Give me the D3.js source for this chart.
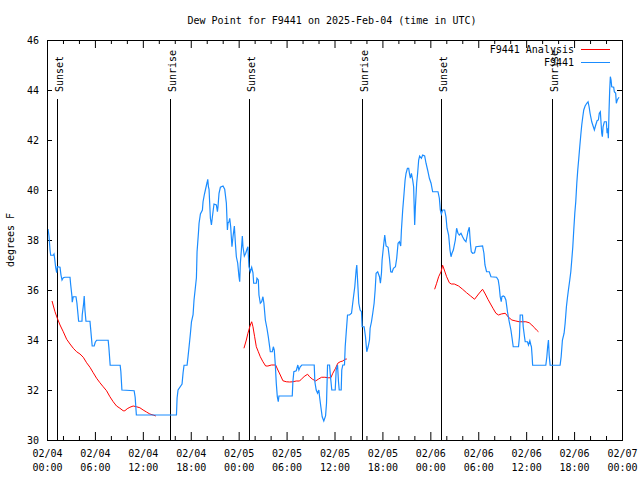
<!DOCTYPE html>
<html><head><meta charset="utf-8">
<script src="https://cdn.jsdelivr.net/npm/d3@7"></script>
<style>
html,body{margin:0;padding:0;background:#fff;}
svg{display:block;}
text{font-family:"DejaVu Sans Mono","Liberation Mono",monospace;font-size:10px;fill:#000;}
</style></head>
<body><svg id="c" width="640" height="480"></svg>
<script>
// ---- data (hours after 2025-02-04 00:00 UTC, degrees F) ----
const title = "Dew Point for F9441 on 2025-Feb-04 (time in UTC)";
const yLabel = "degrees F";
const obsName = "F9441";
const anaName = "F9441 Analysis";

const obsHours = [0.13,0.25,0.38,0.46,0.79,0.88,0.96,1.09,1.21,1.29,1.63,1.75,1.88,2.04,2.25,2.88,2.96,3.13,3.16,3.29,3.63,3.75,3.88,3.96,4.38,4.41,4.59,4.66,4.75,4.88,5.38,5.46,5.59,5.66,5.91,6.04,6.21,7.66,7.75,7.91,9.16,9.25,9.38,10.91,11.04,11.19,16.21,16.29,16.41,16.91,17.04,17.16,17.54,17.66,17.79,17.96,18.09,18.29,18.41,18.59,18.71,18.79,18.96,19.04,19.21,19.46,19.54,19.71,19.88,20.04,20.13,20.21,20.29,20.46,20.59,20.71,20.79,20.91,21.21,21.34,21.41,21.54,21.71,22.04,22.25,22.46,22.59,22.66,22.79,22.88,23.0,23.16,23.29,23.46,23.59,23.71,23.88,24.04,24.13,24.21,24.34,24.46,24.54,24.71,24.88,25.04,25.16,25.29,25.46,25.63,25.79,25.88,26.21,26.29,26.46,26.54,26.71,26.88,27.04,27.16,27.34,27.54,27.71,27.88,27.96,28.21,28.34,28.46,28.59,28.71,28.84,28.96,29.04,30.71,30.79,30.91,31.21,31.41,31.54,31.71,31.91,33.46,33.54,33.71,33.88,34.04,34.13,34.29,34.46,34.66,34.88,35.0,35.13,35.38,35.5,35.66,36.09,36.21,36.38,36.5,36.59,36.84,36.91,37.04,37.25,37.34,37.46,37.63,37.88,38.13,38.38,38.54,38.71,38.79,38.91,39.04,39.21,39.38,39.46,39.71,39.88,40.04,40.21,40.38,40.46,40.63,40.79,40.96,41.09,41.21,41.41,41.63,41.75,41.88,41.96,42.13,42.29,42.46,42.71,42.88,43.04,43.21,43.38,43.63,43.79,43.96,44.13,44.29,44.38,44.54,44.71,44.84,44.96,45.13,45.29,45.38,45.5,45.63,45.79,45.91,46.04,46.13,46.29,46.41,46.54,46.66,46.88,47.04,47.29,47.46,47.66,47.88,48.09,48.29,48.96,49.13,49.25,49.38,49.54,49.79,49.96,50.09,50.29,50.46,50.59,50.71,50.88,51.13,51.29,51.46,51.63,51.84,52.04,52.25,52.46,52.59,52.71,52.88,53.0,53.13,53.29,53.54,53.71,54.54,54.71,54.84,55.04,55.38,55.59,56.29,56.5,56.63,56.75,56.88,56.96,57.13,57.29,57.46,57.66,57.88,58.09,58.21,58.38,59.04,59.16,59.25,59.54,59.63,59.79,59.88,60.16,60.29,60.46,60.59,60.66,60.75,60.81,62.46,62.59,62.69,62.79,62.88,63.0,64.25,64.38,64.54,64.75,64.88,65.04,65.16,65.29,65.46,65.59,65.71,65.84,65.96,66.09,66.21,66.34,66.46,66.59,66.71,66.84,66.96,67.09,67.21,67.38,67.59,67.75,67.88,68.0,68.21,68.38,68.54,68.71,68.88,69.04,69.16,69.29,69.38,69.46,69.54,69.63,69.79,70.04,70.13,70.21,70.29,70.38,70.46,70.54,70.63,70.71,70.96,71.04,71.21,71.29,71.41,71.54,71.63];
const obsValues = [38.44,38.16,37.60,37.39,37.39,37.44,37.25,36.89,36.69,36.93,36.91,36.60,36.40,36.49,36.51,36.51,36.23,35.73,35.51,35.73,35.73,35.47,35.03,34.75,34.75,35.0,35.47,35.76,35.2,34.75,34.75,34.47,34.0,33.76,33.76,33.91,33.99,33.99,33.69,32.99,32.99,32.73,32.0,31.97,31.71,31.0,31.0,31.68,32.0,32.24,32.69,32.99,32.99,33.33,33.73,34.27,34.73,35.01,35.6,36.13,36.49,37.53,38.27,38.67,39.04,39.2,39.53,39.83,40.07,40.29,40.43,40.13,40.03,38.87,38.6,38.93,39.13,39.44,39.4,39.13,39.33,39.87,40.11,40.16,40.03,39.47,38.4,38.67,38.73,38.87,38.53,37.73,38.13,38.56,37.87,37.33,37.07,36.53,36.33,37.07,37.6,38.16,37.73,37.36,37.47,37.63,37.73,36.93,36.73,36.91,36.69,36.27,36.27,36.47,36.4,35.8,35.47,35.53,35.73,35.47,34.8,34.47,34.13,33.73,33.53,33.53,33.73,33.6,33.0,32.27,31.73,31.53,31.76,31.76,32.33,32.73,32.77,33.0,32.8,32.93,33.0,33.0,32.33,32.0,31.87,32.0,31.73,31.33,30.93,30.76,30.96,31.47,33.0,33.0,32.53,32.0,32.0,32.8,33.0,32.33,32.0,32.0,32.8,33.0,33.0,33.73,34.27,35.0,35.0,35.07,35.73,36.13,36.8,37.0,36.27,35.47,35.2,35.13,34.53,34.53,34.13,33.53,33.73,34.0,34.47,34.73,35.07,35.47,36.0,36.67,36.73,36.53,36.27,36.67,37.2,37.73,38.2,37.76,37.71,37.27,36.73,36.71,36.87,36.93,37.27,37.87,37.93,37.76,38.4,39.2,39.87,40.4,40.67,40.87,40.87,40.67,40.47,40.67,40.4,40.13,38.6,39.33,40.27,40.67,41.2,41.36,41.27,41.4,41.36,41.07,40.8,40.47,40.27,39.93,39.93,39.67,39.2,39.04,39.2,39.2,38.93,38.47,38.2,37.6,37.33,37.47,37.6,38.0,38.47,38.27,38.2,38.27,38.13,38.0,37.93,38.13,38.33,38.51,37.93,37.53,37.47,37.49,37.73,37.76,37.47,37.0,36.73,36.73,36.53,36.51,36.4,36.13,35.73,35.53,35.73,35.76,35.73,35.6,35.13,34.73,34.4,34.13,33.73,33.73,34.13,35.0,35.0,34.53,34.13,33.93,33.93,33.8,33.97,33.8,33.73,33.33,32.99,32.99,33.33,33.73,34.0,33.4,32.99,32.99,33.33,34.0,34.27,34.67,35.33,35.67,36.0,36.4,36.73,37.2,37.73,38.4,39.07,39.53,40.27,40.8,41.27,41.73,42.2,42.6,42.93,43.2,43.36,43.47,43.53,43.33,43.07,42.73,42.56,42.4,42.6,42.77,42.8,43.07,43.13,42.67,42.27,42.13,42.53,42.73,42.73,42.27,42.47,42.07,43.2,44.0,44.53,44.4,44.13,44.11,43.93,43.87,43.47,43.6,43.67,43.71];

// analysis series; null marks a gap between runs
const anaHours = [0.63,1.0,1.29,1.63,2.04,2.46,2.88,3.29,3.71,4.13,4.54,4.96,5.38,5.79,6.21,6.63,7.04,7.46,7.88,8.29,8.71,9.13,9.54,9.75,10.04,10.38,10.79,11.21,11.63,12.04,12.46,12.88,13.29,13.63,
  20,
  24.66,24.96,25.16,25.46,25.63,25.79,26.0,26.21,26.46,26.71,27.04,27.38,27.66,28.09,28.63,28.91,29.21,29.54,29.96,30.38,30.79,31.21,31.63,31.96,32.29,32.63,32.88,33.21,33.63,33.96,34.38,34.79,35.21,35.54,35.79,36.13,36.41,36.71,37.04,37.29,37.54,
  44,
  48.54,48.79,49.04,49.34,49.54,49.75,50.04,50.38,50.63,51.0,51.54,52.04,52.54,53.04,53.54,54.04,54.54,54.88,55.21,55.54,55.88,56.21,56.54,56.88,57.38,57.79,58.21,58.71,59.13,59.96,60.38,60.71,61.04,61.29,61.54];
const anaValues = [35.56,35.13,34.87,34.6,34.33,34.03,33.84,33.67,33.53,33.44,33.31,33.09,32.91,32.69,32.47,32.29,32.13,31.97,31.73,31.53,31.36,31.27,31.17,31.17,31.25,31.31,31.36,31.33,31.29,31.2,31.12,31.04,31.0,30.96,
  null,
  33.67,34.0,34.27,34.6,34.73,34.53,34.13,33.73,33.53,33.33,33.13,32.96,32.96,33.0,33.0,32.8,32.6,32.37,32.33,32.32,32.33,32.36,32.36,32.47,32.56,32.63,32.53,32.44,32.36,32.43,32.51,32.51,32.49,32.49,32.67,32.87,33.07,33.13,33.16,33.23,33.24,
  null,
  36.03,36.27,36.53,36.73,36.99,36.8,36.53,36.29,36.24,36.24,36.16,36.03,35.89,35.76,35.63,35.84,36.03,35.84,35.63,35.44,35.25,35.07,35.0,35.04,35.07,34.91,34.8,34.76,34.73,34.73,34.69,34.6,34.49,34.4,34.33];

const sunLabels = ["Sunset","Sunrise","Sunset","Sunrise","Sunset","Sunrise"];
const sunHours = [1.29,15.41,25.29,39.41,49.29,63.29];

const xTickHours = [0,6,12,18,24,30,36,42,48,54,60,66,72];
const xTickDates = ["02/04","02/04","02/04","02/04","02/05","02/05","02/05","02/05","02/06","02/06","02/06","02/06","02/07"];
const xTickTimes = ["00:00","06:00","12:00","18:00","00:00","06:00","12:00","18:00","00:00","06:00","12:00","18:00","00:00"];
const xMinorHours = [2,4,8,10,14,16,20,22,26,28,32,34,38,40,44,46,50,52,56,58,62,64,68,70];
const yTicks = [30,32,34,36,38,40,42,44,46];

// ---- drawing ----
const t0 = Date.UTC(2025,1,4);
const toDate = h => new Date(t0 + h*3600e3);
const L=47, R=622, T=40, B=440;
const svg = d3.select("#c");
const x = d3.scaleUtc().domain([toDate(0), toDate(72)]).range([L,R]);
const y = d3.scaleLinear().domain([30,46]).range([B,T]);

svg.append("text").attr("x", 332).attr("y", 24).attr("text-anchor","middle").text(title);

function strip(g){ g.select(".domain").remove(); g.selectAll("line").attr("stroke","#000"); }

// bottom axis (major + minor)
const gb = svg.append("g").attr("transform",`translate(0,${B})`)
  .call(d3.axisBottom(x).tickValues(xTickHours.map(toDate)).tickSize(-8).tickFormat(""));
strip(gb);
gb.selectAll(".tick text").remove();
gb.selectAll(".tick").each(function(d,i){
  const t = d3.select(this).append("text").attr("text-anchor","middle").attr("fill","#000")
    .style("font-family",'"DejaVu Sans Mono",monospace').style("font-size","10px");
  t.append("tspan").attr("x",0).attr("y",17).text(xTickDates[i]);
  t.append("tspan").attr("x",0).attr("y",31).text(xTickTimes[i]);
});
strip(svg.append("g").attr("transform",`translate(0,${B})`)
  .call(d3.axisBottom(x).tickValues(xMinorHours.map(toDate)).tickSize(-4).tickFormat("")));
// top mirror
strip(svg.append("g").attr("transform",`translate(0,${T})`)
  .call(d3.axisTop(x).tickValues(xTickHours.map(toDate)).tickSize(-8).tickFormat("")));
strip(svg.append("g").attr("transform",`translate(0,${T})`)
  .call(d3.axisTop(x).tickValues(xMinorHours.map(toDate)).tickSize(-4).tickFormat("")));
// left axis
const gl = svg.append("g").attr("transform",`translate(${L},0)`)
  .call(d3.axisLeft(y).tickValues(yTicks).tickSize(-5).tickPadding(8).tickFormat(d3.format("d")));
strip(gl);
gl.selectAll("text").attr("fill","#000").style("font-family",'"DejaVu Sans Mono",monospace').style("font-size","10px");
// right mirror
strip(svg.append("g").attr("transform",`translate(${R},0)`)
  .call(d3.axisRight(y).tickValues(yTicks).tickSize(-5).tickFormat("")));

svg.append("text").attr("transform",`translate(14,240) rotate(-90)`).attr("text-anchor","middle").text(yLabel);

// sunrise / sunset markers
const sg = svg.append("g");
sunHours.forEach((h,i)=>{
  const xp = Math.round(x(toDate(h)))+0.5;
  sg.append("line").attr("x1",xp).attr("x2",xp).attr("y1",99).attr("y2",B).attr("stroke","#000").attr("stroke-width",1);
  sg.append("text").attr("transform",`translate(${xp+5},92) rotate(-90)`).attr("text-anchor","start").text(sunLabels[i]);
});

// series
const obs = obsHours.map((h,i)=>({d:toDate(h), v:obsValues[i]}));
const ana = anaHours.map((h,i)=>({d:toDate(h), v:anaValues[i]}));
const line = d3.line().defined(p=>p.v!==null).x(p=>x(p.d)).y(p=>y(p.v));
svg.append("path").datum(ana).attr("d",line).attr("fill","none").attr("stroke","#ff0000").attr("stroke-width",1);
svg.append("path").datum(obs).attr("d",line).attr("fill","none").attr("stroke","#1a8cff").attr("stroke-width",1.2).attr("stroke-linejoin","miter");

// frame
svg.append("rect").attr("x",L+0.5).attr("y",T+0.5).attr("width",R-L).attr("height",B-T)
  .attr("fill","none").attr("stroke","#000").attr("stroke-width",1);

// legend
const leg = [[anaName,"#ff0000",49],[obsName,"#1a8cff",62]];
leg.forEach(([name,col,yy])=>{
  svg.append("text").attr("x",574).attr("y",yy+4).attr("text-anchor","end").text(name);
  svg.append("line").attr("x1",581).attr("x2",610).attr("y1",yy+0.5).attr("y2",yy+0.5).attr("stroke",col).attr("stroke-width",1);
});
</script></body></html>
